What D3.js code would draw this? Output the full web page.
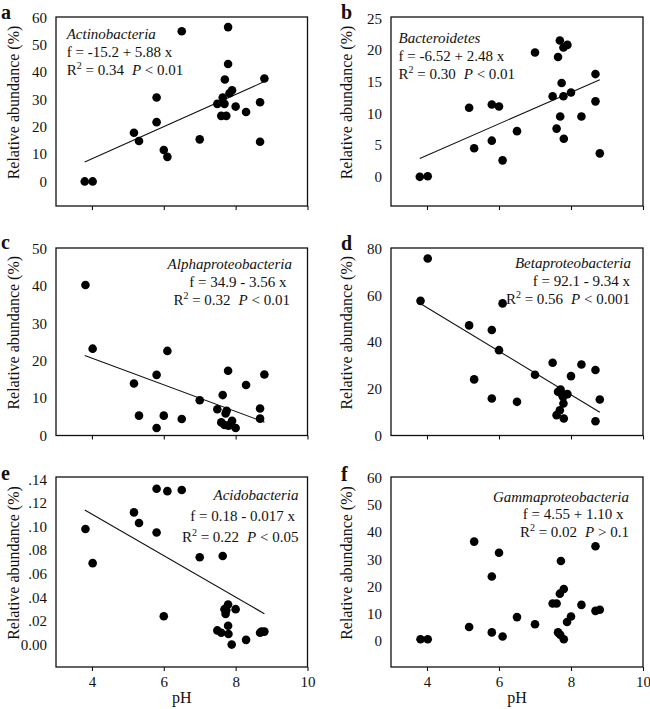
<!DOCTYPE html>
<html>
<head>
<meta charset="utf-8">
<script src="https://cdn.jsdelivr.net/npm/d3@7"></script>
<style>
  html, body { margin: 0; padding: 0; background: #fff; }
  svg { display: block; }
  text { font-family: "Liberation Serif", "Times New Roman", serif; fill: #111; }
</style>
</head>
<body>
<svg id="chart" width="650" height="709"></svg>
<script>
// ---------- data ----------
const phA  = [3.8, 4.02, 5.17, 5.31, 5.8, 5.8, 6.0, 6.1, 6.5, 7.0, 7.49, 7.6, 7.64, 7.69, 7.7, 7.74, 7.79, 7.79, 7.83, 7.9, 8.0, 8.29, 8.68, 8.68, 8.8];
const valA = [0, 0, 17.8, 14.8, 30.7, 21.7, 11.5, 9.0, 55.0, 15.4, 28.4, 24.0, 30.7, 28.4, 37.3, 24.0, 56.5, 43.0, 32.3, 33.4, 27.4, 25.4, 29.0, 14.5, 37.7];

const phB  = [3.8, 4.02, 5.17, 5.31, 5.8, 5.8, 6.0, 6.1, 6.5, 7.0, 7.49, 7.6, 7.64, 7.69, 7.7, 7.74, 7.79, 7.8, 7.79, 7.9, 8.0, 8.29, 8.68, 8.68, 8.8];
const valB = [0, 0.1, 10.9, 4.5, 11.4, 5.7, 11.1, 2.6, 7.2, 19.6, 12.7, 7.6, 18.9, 21.5, 9.5, 14.8, 20.4, 6.0, 12.7, 20.8, 13.3, 9.5, 16.2, 11.9, 3.7];

const phC  = [3.82, 4.02, 5.17, 5.31, 5.8, 5.8, 6.0, 6.1, 6.5, 7.0, 7.49, 7.6, 7.64, 7.69, 7.72, 7.79, 7.8, 7.9, 8.0, 8.29, 8.68, 8.68, 8.8, 7.75, 7.85];
const valC = [40.2, 23.2, 13.9, 5.3, 16.2, 2.0, 5.3, 22.6, 4.4, 9.4, 7.0, 3.5, 10.8, 2.8, 5.9, 17.3, 2.6, 3.9, 2.0, 13.5, 7.2, 4.5, 16.3, 6.6, 3.0];

const phD  = [3.82, 4.02, 5.17, 5.31, 5.8, 5.8, 6.0, 6.1, 6.5, 7.0, 7.49, 7.6, 7.64, 7.69, 7.71, 7.74, 7.79, 7.8, 7.9, 8.0, 8.29, 8.68, 8.68, 8.8, 7.78];
const valD = [57.6, 75.7, 47.1, 24.0, 45.1, 15.8, 36.5, 56.5, 14.4, 26.0, 31.1, 8.7, 18.7, 10.8, 19.7, 17.7, 13.7, 7.3, 17.7, 25.4, 30.4, 28.0, 6.1, 15.4, 16.5];

const phE  = [3.82, 4.02, 5.17, 5.31, 5.8, 5.8, 6.0, 6.1, 6.5, 7.0, 7.49, 7.6, 7.64, 7.69, 7.72, 7.79, 7.79, 7.8, 7.89, 8.0, 8.29, 8.68, 8.8, 7.74, 8.72];
const valE = [0.098, 0.069, 0.112, 0.103, 0.132, 0.095, 0.024, 0.130, 0.131, 0.074, 0.012, 0.010, 0.075, 0.030, 0.026, 0.034, 0.016, 0.009, 0.000, 0.030, 0.004, 0.010, 0.011, 0.029, 0.011];

const phF  = [3.82, 4.02, 5.17, 5.31, 5.8, 5.8, 6.0, 6.1, 6.5, 7.0, 7.49, 7.6, 7.64, 7.69, 7.7, 7.72, 7.8, 7.8, 7.89, 8.0, 8.29, 8.68, 8.68, 8.8];
const valF = [0.7, 0.7, 5.2, 36.5, 23.7, 3.2, 32.4, 1.7, 8.8, 6.2, 13.8, 13.8, 3.2, 17.4, 2.3, 29.4, 19.1, 0.7, 7.0, 9.0, 13.3, 34.8, 11.1, 11.5];

const panelLetters = ["a", "b", "c", "d", "e", "f"];
const taxa = ["Actinobacteria", "Bacteroidetes", "Alphaproteobacteria", "Betaproteobacteria", "Acidobacteria", "Gammaproteobacteria"];
const equations = ["f = -15.2 + 5.88 x", "f = -6.52 + 2.48 x", "f = 34.9 - 3.56 x", "f = 92.1 - 9.34 x", "f = 0.18 - 0.017 x", "f = 4.55 + 1.10 x"];
const r2Text = ["0.34", "0.30", "0.32", "0.56", "0.22", "0.02"];
const pText  = ["< 0.01", "< 0.01", "< 0.01", "< 0.001", "< 0.05", "> 0.1"];
// regression [intercept, slope]; null = no line drawn
const fits = [[-15.2, 5.88], [-6.52, 2.48], [34.9, -3.56], [92.1, -9.34], [0.181, -0.0176], null];
const fitRange = [3.8, 8.8];

const yTicksA = [0, 10, 20, 30, 40, 50, 60];
const yTicksB = [0, 5, 10, 15, 20, 25];
const yTicksC = [0, 10, 20, 30, 40, 50];
const yTicksD = [0, 20, 40, 60, 80];
const yTicksE = [0, 0.02, 0.04, 0.06, 0.08, 0.10, 0.12, 0.14];
const yTicksF = [0, 10, 20, 30, 40, 50, 60];
const xTicks = [4, 6, 8, 10];
const xDomain = [3, 10];
const yDomains = [[-9, 60.2], [-4.6, 25.2], [0, 50.1], [0, 80.2], [-0.019, 0.142], [-9.5, 60.2]];

// ---------- layout ----------
const colX = [[56, 307.5], [391, 643]];
const rowY = [[17, 206], [248, 435.5], [477, 667]];
const annot = [
  {anchor: "start", xs: [66.7, 66.7, 66.7], ys: [38.5, 56.5, 74.5]},
  {anchor: "start", xs: [398.5, 398.5, 398.5], ys: [43, 61, 78.5]},
  {anchor: "end",   xs: [292, 286.5, 290], ys: [268.5, 286.5, 305]},
  {anchor: "end",   xs: [631, 630, 630], ys: [267.5, 285.5, 304]},
  {anchor: "end",   xs: [298.5, 295, 298.5], ys: [500, 521, 542]},
  {anchor: "end",   xs: [629, 623.5, 629], ys: [502, 519, 536.5]}
];
const letterBase = [19, 19, 249, 250, 480, 481];

const series = [[phA, valA], [phB, valB], [phC, valC], [phD, valD], [phE, valE], [phF, valF]];
const yTickSets = [yTicksA, yTicksB, yTicksC, yTicksD, yTicksE, yTicksF];

const svg = d3.select("#chart");
svg.append("rect").attr("width", 650).attr("height", 709).attr("fill", "#fff");

const fmtE = v => v === 0 ? "0.00" : d3.format(".2f")(v).replace(/^0/, "");

series.forEach(([xs, ys], i) => {
  const col = i % 2, row = Math.floor(i / 2);
  const [x0, x1] = colX[col];
  const [y0, y1] = rowY[row];
  const x = d3.scaleLinear().domain(xDomain).range([x0, x1]);
  const y = d3.scaleLinear().domain(yDomains[i]).range([y1, y0]);
  const g = svg.append("g");

  g.append("rect").attr("x", x0).attr("y", y0).attr("width", x1 - x0).attr("height", y1 - y0)
    .attr("fill", "none").attr("stroke", "#111").attr("stroke-width", 1.3);

  const xAxis = d3.axisBottom(x).tickValues(xTicks).tickSize(4).tickSizeOuter(0)
    .tickFormat(row === 2 ? d3.format("d") : "");
  const xa = g.append("g").attr("transform", `translate(0,${y1})`).call(xAxis)
    .attr("font-family", null).attr("font-size", null);
  xa.select(".domain").remove();
  xa.selectAll(".tick line").attr("stroke", "#111").attr("stroke-width", 1.1);
  xa.selectAll(".tick text").attr("font-size", 15).attr("fill", "#111").attr("y", 9).attr("dy", "0.71em");

  const yAxis = d3.axisLeft(y).tickValues(yTickSets[i]).tickSize(0).tickPadding(9)
    .tickFormat(i === 4 ? fmtE : d3.format("d"));
  const ya = g.append("g").attr("transform", `translate(${x0},0)`).call(yAxis)
    .attr("font-family", null).attr("font-size", null);
  ya.select(".domain").remove();
  ya.selectAll(".tick text").attr("font-size", 15).attr("fill", "#111");

  if (fits[i]) {
    const [b0, b1] = fits[i];
    g.append("line")
      .attr("x1", x(fitRange[0])).attr("y1", y(b0 + b1 * fitRange[0]))
      .attr("x2", x(fitRange[1])).attr("y2", y(b0 + b1 * fitRange[1]))
      .attr("stroke", "#111").attr("stroke-width", 1.1);
  }

  g.selectAll("circle.pt").data(d3.zip(xs, ys)).join("circle").attr("class", "pt")
    .attr("cx", d => x(d[0])).attr("cy", d => y(d[1])).attr("r", 4.3).attr("fill", "#000");

  const a = annot[i];
  g.append("text").attr("x", a.xs[0]).attr("y", a.ys[0]).attr("text-anchor", a.anchor)
    .attr("font-size", 15).attr("font-style", "italic").text(taxa[i]);
  g.append("text").attr("x", a.xs[1]).attr("y", a.ys[1]).attr("text-anchor", a.anchor)
    .attr("font-size", 15).text(equations[i]);
  const t = g.append("text").attr("x", a.xs[2]).attr("y", a.ys[2]).attr("text-anchor", a.anchor)
    .attr("font-size", 15);
  t.append("tspan").text("R");
  t.append("tspan").attr("font-size", 10).attr("dy", -6).text("2");
  t.append("tspan").attr("dy", 6).text(" = " + r2Text[i]);
  t.append("tspan").attr("dx", 8).attr("font-style", "italic").text("P");
  t.append("tspan").text(" " + pText[i]);

  const titleX = col === 0 ? 19 : 352;
  const titleY = (y0 + y1) / 2 - 9;
  g.append("text").attr("transform", `translate(${titleX},${titleY}) rotate(-90)`)
    .attr("text-anchor", "middle").attr("font-size", 16).text("Relative abundance (%)");

  g.append("text").attr("x", col === 0 ? 1 : 341).attr("y", letterBase[i])
    .attr("font-size", 20).attr("font-weight", "bold").text(panelLetters[i]);

  if (row === 2) {
    g.append("text").attr("x", (x0 + x1) / 2).attr("y", 703).attr("text-anchor", "middle")
      .attr("font-size", 16).text("pH");
  }
});
</script>
</body>
</html>
